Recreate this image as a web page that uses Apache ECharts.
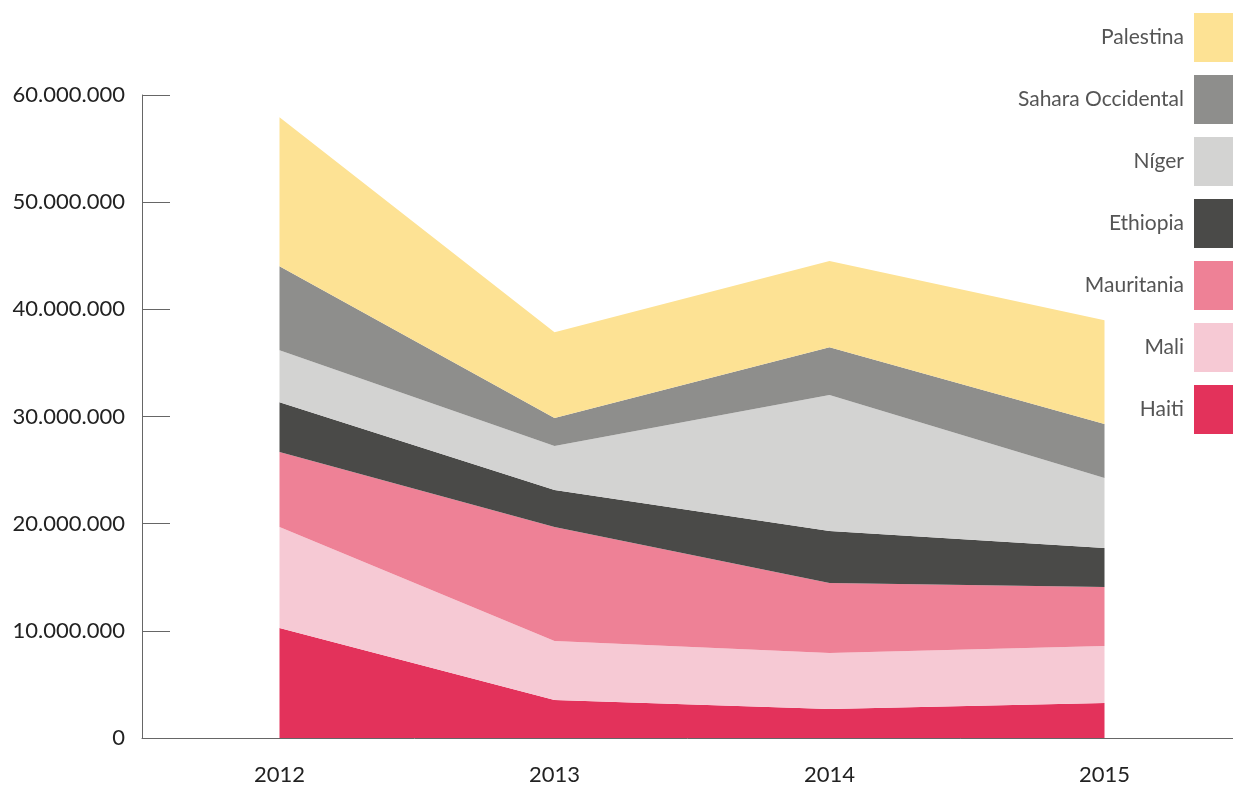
<!DOCTYPE html>
<html>
<head>
<meta charset="utf-8">
<script src="https://cdn.jsdelivr.net/npm/echarts@6/dist/echarts.min.js"></script>
<style>
  html, body { margin: 0; padding: 0; background: #fff; }
  #chart { width: 1233px; height: 787px; }
</style>
</head>
<body>
<div id="chart"></div>
<script>
// años
const years = ['2012', '2013', '2014', '2015']

// valores por país (apilados de abajo hacia arriba)
const haiti = [10260000, 3540000, 2710000, 3260000]
const mali = [9420000, 5510000, 5220000, 5320000]
const mauritania = [7000000, 10630000, 6530000, 5510000]
const ethiopia = [4660000, 3450000, 4850000, 3630000]
const niger = [4850000, 4110000, 12690000, 6530000]
const sahara = [7840000, 2610000, 4470000, 5040000]
const palestina = [13900000, 8020000, 8030000, 9700000]

const names = ['Haiti', 'Mali', 'Mauritania', 'Ethiopia', 'Níger', 'Sahara Occidental', 'Palestina']
const values = [haiti, mali, mauritania, ethiopia, niger, sahara, palestina]
const colors = ['#E3325B', '#F6C9D4', '#EE8196', '#4A4A48', '#D3D3D2', '#8E8E8C', '#FDE294']

const fmt = v => String(v).replace(/\B(?=(\d{3})+(?!\d))/g, '.')

const chart = echarts.init(document.getElementById('chart'))
chart.setOption({
  animation: false,
  textStyle: { fontFamily: 'Lato' },
  legend: {
    orient: 'vertical',
    right: 0,
    top: 13,
    padding: 0,
    align: 'right',
    icon: 'rect',
    itemWidth: 39,
    itemHeight: 49,
    itemGap: 13,
    data: names.slice().reverse(),
    textStyle: { fontSize: 21, color: '#555', padding: [0, 5, 0, 0] }
  },
  grid: { left: 142, width: 1100, top: 95, bottom: 49, outerBoundsMode: 'none', containLabel: false },
  xAxis: {
    type: 'category',
    data: years,
    boundaryGap: true,
    axisLine: { lineStyle: { color: '#666', width: 1 } },
    axisTick: { show: false },
    axisLabel: { fontSize: 22, color: '#222', margin: 26 }
  },
  yAxis: {
    type: 'value',
    min: 0,
    max: 60000000,
    interval: 10000000,
    splitLine: { show: false },
    axisLine: { show: true, lineStyle: { color: '#666', width: 1 } },
    axisTick: { show: true, inside: true, length: 28, lineStyle: { color: '#666' } },
    axisLabel: { fontSize: 22, color: '#222', margin: 17, formatter: fmt }
  },
  series: names.map((n, i) => ({
    name: n,
    type: 'line',
    stack: 'total',
    data: values[i],
    showSymbol: false,
    symbol: 'none',
    lineStyle: { width: 0 },
    itemStyle: { color: colors[i] },
    areaStyle: { color: colors[i], opacity: 1 }
  }))
})
</script>
</body>
</html>
